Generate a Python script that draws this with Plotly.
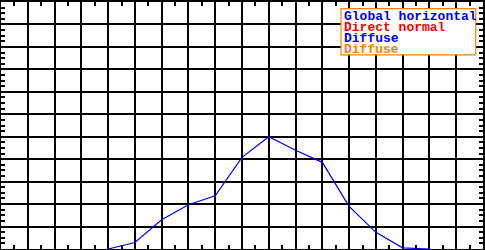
import plotly.graph_objects as go

# Data (hour index, irradiance)
hours = [4, 5, 6, 7, 8, 9, 10, 11, 12, 13, 14, 15, 16]
global_horizontal = [0, 29, 130, 197, 237, 408, 500, 440, 386, 190, 74, 5, 0]
legend_labels = ["Global horizontal", "Direct normal", "Diffuse", "Diffuse"]
legend_colors = ["#0000FF", "#FF0000", "#0000FF", "#FF8000"]

W, H = 485, 250
ML, MR, MT, MB = 1, 1, 0, 1
PW, PH = W - ML - MR, H - MT - MB


def px_x(px):
    return (px - ML) / PW


def px_y(py):
    return (H - MB - py) / PH


fig = go.Figure()
fig.add_trace(go.Scatter(x=hours, y=global_horizontal, mode="lines",
                         line=dict(color="#0000FF", width=1.2),
                         name=legend_labels[0], showlegend=False))

axis_common = dict(showgrid=True, gridcolor="black", gridwidth=1.6,
                   showline=True, linecolor="black", linewidth=2, mirror="allticks",
                   ticks="inside", ticklen=4, tickcolor="black", tickwidth=1.5,
                   showticklabels=False, zeroline=False, fixedrange=True)

fig.update_xaxes(range=[0, 18], dtick=1, tick0=0,
                 minor=dict(dtick=0.5, ticks="inside", ticklen=4, tickcolor="black",
                            tickwidth=1.5, showgrid=False),
                 **axis_common)
fig.update_yaxes(range=[0, 1100], dtick=100, tick0=0,
                 minor=dict(dtick=25, ticks="inside", ticklen=4, tickcolor="black",
                            tickwidth=1.5, showgrid=False),
                 **axis_common)

# Legend box
fig.add_shape(type="rect", xref="paper", yref="paper",
              x0=px_x(341.7), x1=px_x(476.7), y0=px_y(53.3), y1=px_y(6.7),
              line=dict(color="#FF8000", width=1.2), fillcolor="white", layer="above")

row_y = [14.5, 25.7, 36.9, 48.1]
for label, color, py in zip(legend_labels, legend_colors, row_y):
    fig.add_annotation(xref="paper", yref="paper", x=px_x(342.5), y=px_y(py),
                       xanchor="left", yanchor="middle", showarrow=False,
                       text="<b>%s</b>" % label,
                       font=dict(family="Liberation Mono", size=13, color=color))

fig.update_layout(width=W, height=H, margin=dict(l=ML, r=MR, t=MT, b=MB),
                  paper_bgcolor="white", plot_bgcolor="white", showlegend=False)

fig.write_html("out.html", config={"displayModeBar": False},
               post_script="document.body.style.margin='0';document.body.style.overflow='hidden';")
